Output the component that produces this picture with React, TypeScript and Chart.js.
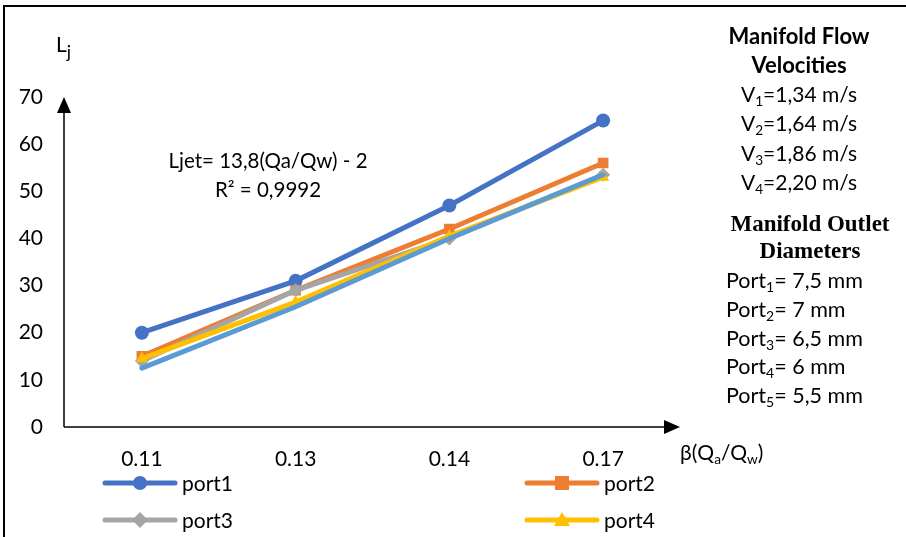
import React, { useEffect, useRef } from "react";
import { Chart, registerables } from "chart.js";

Chart.register(...registerables);

const categories = ["0.11", "0.13", "0.14", "0.17"];
const seriesNames = ["port1", "port2", "port3", "port4", "port5"];
const port1 = [20, 31, 47, 65];
const port2 = [15, 29, 42, 56];
const port3 = [14, 29, 40, 53.5];
const port4 = [14.5, 26.5, 40.5, 53];
const port5 = [12.5, 25.5, 40, 53.5];
const seriesColors = ["#4472C4", "#ED7D31", "#A5A5A5", "#FFC000", "#5B9BD5"];
const seriesMarkers = ["circle", "rect", "rectRot", "triangle", "none"];
const yMin = 0;
const yMax = 70;
const yStep = 10;

const velocityLines = [
  ["1", "=1,34 m/s"],
  ["2", "=1,64 m/s"],
  ["3", "=1,86 m/s"],
  ["4", "=2,20 m/s"],
];
const diameterLines = [
  ["1", "= 7,5 mm"],
  ["2", "= 7 mm"],
  ["3", "= 6,5 mm"],
  ["4", "= 6 mm"],
  ["5", "= 5,5 mm"],
];

const FONT = "Lato, 'Noto Sans', sans-serif";

function drawMarker(ctx: CanvasRenderingContext2D, style: string, x: number, y: number, color: string) {
  ctx.save();
  ctx.fillStyle = color;
  ctx.beginPath();
  if (style === "circle") {
    ctx.arc(x, y, 7, 0, Math.PI * 2);
  } else if (style === "rect") {
    ctx.rect(x - 7, y - 7, 14, 14);
  } else if (style === "rectRot") {
    ctx.moveTo(x, y - 8);
    ctx.lineTo(x + 8, y);
    ctx.lineTo(x, y + 8);
    ctx.lineTo(x - 8, y);
    ctx.closePath();
  } else if (style === "triangle") {
    ctx.moveTo(x, y - 8);
    ctx.lineTo(x + 8, y + 6);
    ctx.lineTo(x - 8, y + 6);
    ctx.closePath();
  }
  if (style !== "none") ctx.fill();
  ctx.restore();
}

const decorPlugin = {
  id: "decor",
  afterDraw(chart: any) {
    const ctx: CanvasRenderingContext2D = chart.ctx;
    const ys = chart.scales.y;
    const left = chart.chartArea.left - 1;
    const bottom = ys.getPixelForValue(yMin);
    const top = ys.getPixelForValue(yMax);
    const right = chart.chartArea.right;
    ctx.save();
    ctx.strokeStyle = "#000";
    ctx.fillStyle = "#000";
    ctx.lineWidth = 1.5;
    // y axis
    ctx.beginPath();
    ctx.moveTo(left, bottom);
    ctx.lineTo(left, top + 14);
    ctx.stroke();
    ctx.beginPath();
    ctx.moveTo(left, top);
    ctx.lineTo(left + 7, top + 16);
    ctx.lineTo(left - 7, top + 16);
    ctx.closePath();
    ctx.fill();
    // x axis
    ctx.beginPath();
    ctx.moveTo(left, bottom);
    ctx.lineTo(right - 14, bottom);
    ctx.stroke();
    ctx.beginPath();
    ctx.moveTo(right, bottom);
    ctx.lineTo(right - 16, bottom - 7);
    ctx.lineTo(right - 16, bottom + 7);
    ctx.closePath();
    ctx.fill();

    // legend
    const ds = chart.data.datasets;
    const legendPos = [
      [105, 483],
      [527, 483],
      [105, 520],
      [527, 520],
      [105, 557],
    ];
    ctx.font = `21px ${FONT}`;
    ctx.textBaseline = "middle";
    ctx.textAlign = "left";
    for (let i = 0; i < ds.length; i++) {
      const [lx, ly] = legendPos[i];
      ctx.strokeStyle = ds[i].borderColor;
      ctx.lineWidth = 5;
      ctx.lineCap = "round";
      ctx.beginPath();
      ctx.moveTo(lx, ly);
      ctx.lineTo(lx + 70, ly);
      ctx.stroke();
      drawMarker(ctx, seriesMarkers[i], lx + 35, ly, ds[i].borderColor);
      ctx.fillStyle = "#000";
      ctx.fillText(ds[i].label, lx + 77, ly + 1);
    }
    ctx.restore();
  },
};

function ChartCanvas() {
  const ref = useRef<HTMLCanvasElement | null>(null);
  useEffect(() => {
    if (!ref.current) return;
    const values = [port1, port2, port3, port4, port5];
    const chart = new Chart(ref.current, {
      type: "line",
      data: {
        labels: categories,
        datasets: values.map((v, i) => ({
          label: seriesNames[i],
          data: v,
          borderColor: seriesColors[i],
          backgroundColor: seriesColors[i],
          borderWidth: 5,
          pointStyle: seriesMarkers[i] === "none" ? false : (seriesMarkers[i] as any),
          pointRadius: seriesMarkers[i] === "none" ? 0 : seriesMarkers[i] === "rect" ? 7.5 : 7,
          pointBorderWidth: 0,
          tension: 0,
          order: values.length - 1 - i,
          borderCapStyle: "round",
        })),
      },
      options: {
        animation: false,
        responsive: false,
        devicePixelRatio: 1,
        events: [],
        layout: { padding: { left: 7, right: 226, top: 97, bottom: 60 } },
        plugins: { legend: { display: false }, tooltip: { enabled: false } },
        scales: {
          x: {
            type: "category",
            offset: true,
            grid: { display: false, drawTicks: false },
            border: { display: false },
            ticks: { color: "#000", font: { family: FONT, size: 21 }, padding: 20 },
            afterFit: (s: any) => {
              s.height = 50;
            },
          },
          y: {
            min: yMin,
            max: yMax,
            grid: { display: false, drawTicks: false },
            border: { display: false },
            ticks: { stepSize: yStep, color: "#000", font: { family: FONT, size: 21 }, padding: 22 },
            afterFit: (s: any) => {
              s.width = 58;
            },
          },
        },
      },
      plugins: [decorPlugin],
    });
    return () => chart.destroy();
  }, []);
  return <canvas ref={ref} width={906} height={537} style={{ position: "absolute", left: 0, top: 0 }} />;
}

const abs = (left: number, centerY: number, extra: React.CSSProperties = {}): React.CSSProperties => ({
  position: "absolute",
  left,
  top: centerY - 14,
  whiteSpace: "nowrap",
  fontFamily: FONT,
  fontSize: 21,
  lineHeight: "28px",
  color: "#000",
  ...extra,
});

const subStyle: React.CSSProperties = { fontSize: "0.65em", verticalAlign: "-0.3em", lineHeight: 0 };
const bigSub: React.CSSProperties = { fontSize: "0.85em", verticalAlign: "-0.35em", lineHeight: 0 };

const serifBold: React.CSSProperties = {
  width: 200,
  textAlign: "center",
  fontWeight: 700,
  fontFamily: "'Liberation Serif', serif",
  fontSize: 23,
};

export default function App() {
  return (
    <div style={{ position: "absolute", left: 0, top: 0, width: 906, height: 537, overflow: "hidden", background: "#fff" }}>
      <ChartCanvas />
      <div
        style={{
          position: "absolute",
          left: 3,
          top: 5,
          width: 920,
          height: 560,
          borderTop: "2px solid #000",
          borderLeft: "2px solid #000",
          pointerEvents: "none",
        }}
      />
      <div style={abs(56, 44)}>
        L<span style={bigSub}>j</span>
      </div>
      <div style={abs(118, 160, { width: 300, textAlign: "center", fontSize: 20.5 })}>Ljet= 13,8(Qa/Qw) - 2</div>
      <div style={abs(118, 189, { width: 300, textAlign: "center", fontSize: 20.5 })}>R² = 0,9992</div>
      <div style={abs(680, 452)}>
        β(Q<span style={subStyle}>a</span>/Q<span style={subStyle}>w</span>)
      </div>
      <div style={abs(699, 36, { width: 200, textAlign: "center", fontWeight: 700, fontSize: 22 })}>Manifold Flow</div>
      <div style={abs(699, 65, { width: 200, textAlign: "center", fontWeight: 700, fontSize: 22 })}>Velocities</div>
      {velocityLines.map((v, i) => (
        <div key={v[0]} style={abs(699, 94 + i * 29.3, { width: 200, textAlign: "center" })}>
          V<span style={subStyle}>{v[0]}</span>
          {v[1]}
        </div>
      ))}
      <div style={abs(710, 224, serifBold)}>Manifold Outlet</div>
      <div style={abs(710, 251, serifBold)}>Diameters</div>
      {diameterLines.map((d, i) => (
        <div key={d[0]} style={abs(726, 280 + i * 28.8, { fontSize: 21.5 })}>
          Port<span style={subStyle}>{d[0]}</span>
          {d[1]}
        </div>
      ))}
    </div>
  );
}
